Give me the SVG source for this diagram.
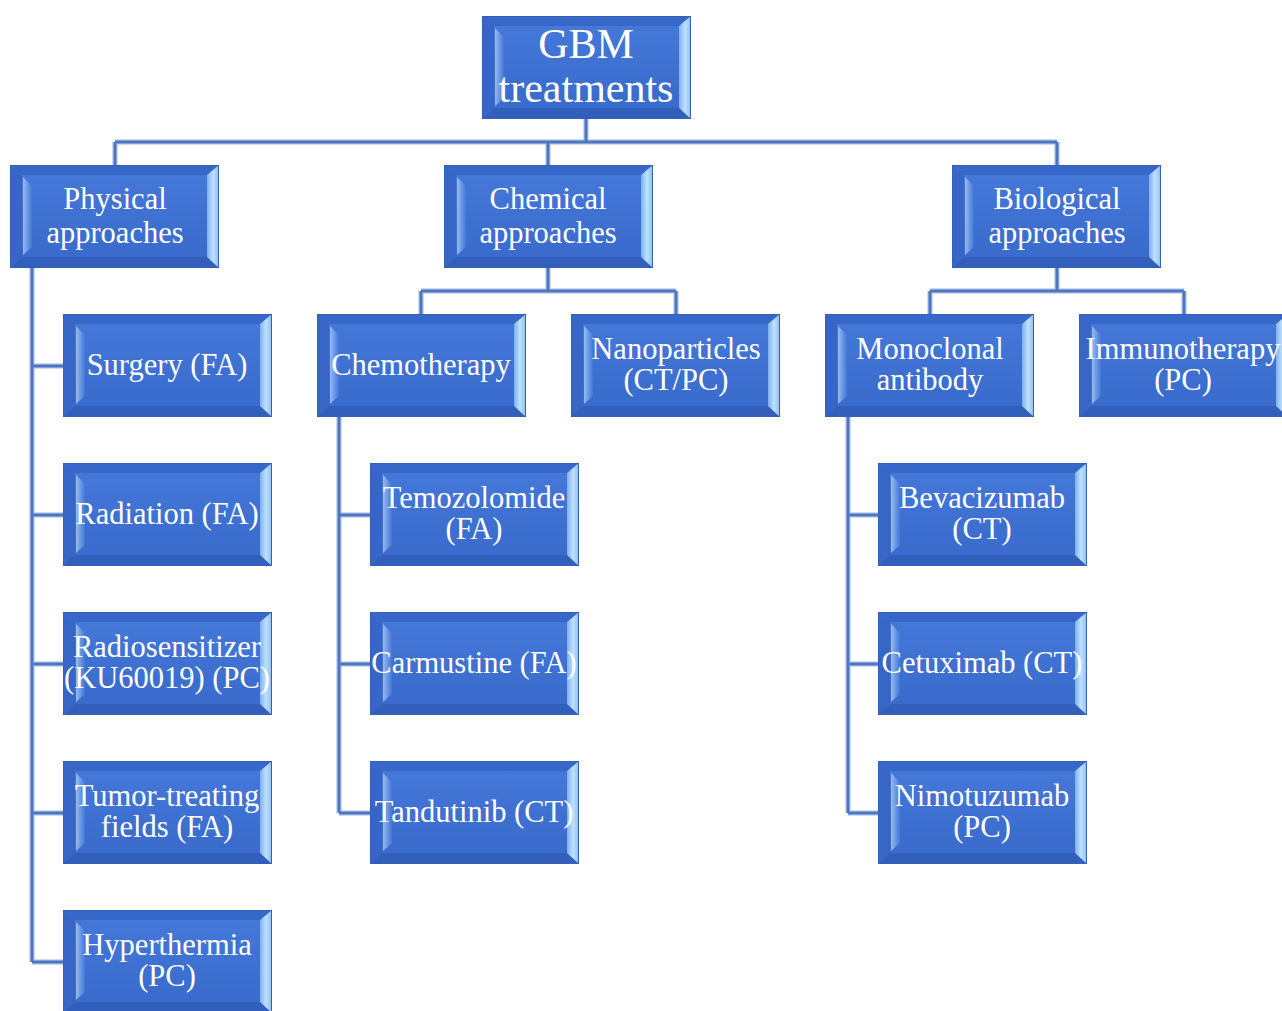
<svg xmlns="http://www.w3.org/2000/svg" xmlns:xlink="http://www.w3.org/1999/xlink" width="1282" height="1011" viewBox="0 0 1282 1011">
<style>
text{font-family:'Liberation Serif','Times New Roman',Times,'DejaVu Serif',serif;fill:#ffffff;text-anchor:middle;font-size:30.5px}
.big{font-size:42px}
.c{fill:none;stroke:#4d75c2;stroke-width:3;stroke-linejoin:miter}
.cl{fill:none;stroke:#bfd0ec;stroke-width:5.5}
</style>
<defs>
<linearGradient id="face" x1="0" y1="0" x2="0" y2="1">
<stop offset="0" stop-color="#4579da"/>
<stop offset="1" stop-color="#3869cb"/>
</linearGradient>
<linearGradient id="lb" x1="0" y1="0" x2="1" y2="0">
<stop offset="0" stop-color="#a8c8f4"/>
<stop offset="0.4" stop-color="#7ea8ea"/>
<stop offset="1" stop-color="#4477d8"/>
</linearGradient>
<linearGradient id="rb" x1="0" y1="0" x2="1" y2="0">
<stop offset="0" stop-color="#7cb0ee"/>
<stop offset="0.5" stop-color="#bfe2fc"/>
<stop offset="1" stop-color="#8bbcf0"/>
</linearGradient>
<g id="box">
<rect x="0" y="0" width="209" height="103" fill="url(#face)"/>
<polygon points="0,0 209,0 197,10 12,10" fill="#3767c8"/>
<polygon points="0,103 209,103 197,92 12,92" fill="#325fbc"/>
<polygon points="0,0 12,10 12,92 0,103" fill="#3766c6"/>
<polygon points="13,12 22,21 22,82 13,90" fill="url(#lb)" opacity="0.85"/>
<polygon points="197,10 209,0 209,103 197,92" fill="url(#rb)"/>
<rect x="0.5" y="0.5" width="208" height="102" fill="none" stroke="#3560b6" stroke-width="1"/>
</g>
</defs>
<rect width="1282" height="1011" fill="#ffffff"/>
<g id="connectors">
<path class="cl" d="M586,119 V142 M115,142 H1057 M115,142 V165 M548,142 V165 M1057,142 V165 M32,268 V962 M32,366 H63 M32,515 H63 M32,664 H63 M32,813 H63 M32,962 H63 M548,268 V291 M421,291 H676 M421,291 V314 M676,291 V314 M339,417 V813 M339,515 H370 M339,664 H370 M339,813 H370 M1057,268 V291 M930,291 H1184 M930,291 V314 M1184,291 V314 M848,417 V813 M848,515 H878 M848,664 H878 M848,813 H878"/>
<path class="c" d="M586,119 V142 M115,142 H1057 M115,142 V165 M548,142 V165 M1057,142 V165 M32,268 V962 M32,366 H63 M32,515 H63 M32,664 H63 M32,813 H63 M32,962 H63 M548,268 V291 M421,291 H676 M421,291 V314 M676,291 V314 M339,417 V813 M339,515 H370 M339,664 H370 M339,813 H370 M1057,268 V291 M930,291 H1184 M930,291 V314 M1184,291 V314 M848,417 V813 M848,515 H878 M848,664 H878 M848,813 H878"/>
</g>
<g id="gbm"><use xlink:href="#box" x="482" y="16"/><text class="big" x="586" y="58">GBM</text><text class="big" x="586" y="102">treatments</text></g>
<g id="physical"><use xlink:href="#box" x="10" y="165"/><text x="115" y="209">Physical</text><text x="115" y="243">approaches</text></g>
<g id="chemical"><use xlink:href="#box" x="444" y="165"/><text x="548" y="209">Chemical</text><text x="548" y="243">approaches</text></g>
<g id="biological"><use xlink:href="#box" x="952" y="165"/><text x="1057" y="209">Biological</text><text x="1057" y="243">approaches</text></g>
<g id="surgery"><use xlink:href="#box" x="63" y="314"/><text x="167" y="375">Surgery (FA)</text></g>
<g id="radiation"><use xlink:href="#box" x="63" y="463"/><text x="167" y="524">Radiation (FA)</text></g>
<g id="radiosensitizer"><use xlink:href="#box" x="63" y="612"/><text x="167" y="657">Radiosensitizer</text><text x="167" y="688">(KU60019) (PC)</text></g>
<g id="ttf"><use xlink:href="#box" x="63" y="761"/><text x="167" y="806">Tumor-treating</text><text x="167" y="837">fields (FA)</text></g>
<g id="hyperthermia"><use xlink:href="#box" x="63" y="910"/><text x="167" y="955">Hyperthermia</text><text x="167" y="986">(PC)</text></g>
<g id="chemotherapy"><use xlink:href="#box" x="317" y="314"/><text x="421" y="375">Chemotherapy</text></g>
<g id="nanoparticles"><use xlink:href="#box" x="571" y="314"/><text x="676" y="359">Nanoparticles</text><text x="676" y="390">(CT/PC)</text></g>
<g id="temozolomide"><use xlink:href="#box" x="370" y="463"/><text x="474" y="508">Temozolomide</text><text x="474" y="539">(FA)</text></g>
<g id="carmustine"><use xlink:href="#box" x="370" y="612"/><text x="474" y="673">Carmustine (FA)</text></g>
<g id="tandutinib"><use xlink:href="#box" x="370" y="761"/><text x="474" y="822">Tandutinib (CT)</text></g>
<g id="monoclonal"><use xlink:href="#box" x="825" y="314"/><text x="930" y="359">Monoclonal</text><text x="930" y="390">antibody</text></g>
<g id="immunotherapy"><use xlink:href="#box" x="1079" y="314"/><text x="1183" y="359">Immunotherapy</text><text x="1183" y="390">(PC)</text></g>
<g id="bevacizumab"><use xlink:href="#box" x="878" y="463"/><text x="982" y="508">Bevacizumab</text><text x="982" y="539">(CT)</text></g>
<g id="cetuximab"><use xlink:href="#box" x="878" y="612"/><text x="982" y="673">Cetuximab (CT)</text></g>
<g id="nimotuzumab"><use xlink:href="#box" x="878" y="761"/><text x="982" y="806">Nimotuzumab</text><text x="982" y="837">(PC)</text></g>
</svg>
